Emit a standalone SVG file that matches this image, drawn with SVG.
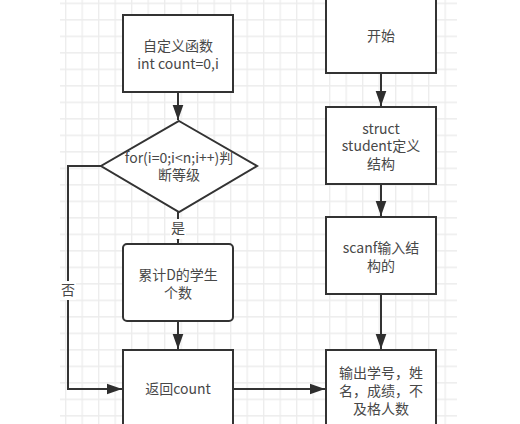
<svg xmlns="http://www.w3.org/2000/svg" width="520" height="424" viewBox="0 0 520 424">
<defs>
<pattern id="grid" x="65" y="2.6" width="16.5" height="16.5" patternUnits="userSpaceOnUse">
<path d="M0.7 0 V16.5 M0 0.7 H16.5" stroke="#ececec" stroke-width="1.3" fill="none"/>
</pattern>
<marker id="arr" markerUnits="userSpaceOnUse" markerWidth="16" markerHeight="12" viewBox="0 0 16 12" refX="15.5" refY="6" orient="auto">
<path d="M0 0.5 L15.5 6 L0 11.5 Z" fill="#2e2e2e"/>
</marker>
</defs>
<style>
.box{fill:#fff;stroke:#333;stroke-width:2}
.edge{fill:none;stroke:#333;stroke-width:2}
.t{font-family:"Noto Sans CJK SC","Noto Sans",sans-serif;font-size:14px;fill:#484848;text-anchor:middle}
</style>
<rect x="0" y="0" width="520" height="424" fill="#fff"/>
<rect x="60" y="0" width="397" height="424" fill="url(#grid)"/>
<g id="connectors">
<path class="edge" d="M178 92 V120" marker-end="url(#arr)"/>
<path class="edge" d="M178 212 V243" marker-end="url(#arr)"/>
<path class="edge" d="M178 321 V349" marker-end="url(#arr)"/>
<path class="edge" d="M101 166 H68 V389 H122" marker-end="url(#arr)"/>
<path class="edge" d="M234 389 H325" marker-end="url(#arr)"/>
<path class="edge" d="M381 73 V106" marker-end="url(#arr)"/>
<path class="edge" d="M381 184 V216" marker-end="url(#arr)"/>
<path class="edge" d="M381 294 V349" marker-end="url(#arr)"/>
<rect x="170" y="219" width="16" height="20" fill="#fff"/>
<text class="t" x="178" y="233">是</text>
<rect x="60" y="281" width="16" height="19" fill="#fff"/>
<text class="t" x="68" y="295">否</text>
</g>
<g id="n1">
<rect class="box" x="123" y="15" width="110" height="77"/>
<text class="t" x="178" y="51">自定义函数</text>
<text class="t" x="178" y="69">int count=0,i</text>
</g>
<g id="n2">
<path class="box" d="M179 121 L257 166 L179 212 L101 166 Z"/>
<text class="t" x="179" y="163">for(i=0;i&lt;n;i++)判</text>
<text class="t" x="179" y="180">断等级</text>
</g>
<g id="n3">
<rect class="box" x="123" y="244" width="110" height="77" rx="4"/>
<text class="t" x="178" y="280">累计D的学生</text>
<text class="t" x="178" y="298">个数</text>
</g>
<g id="n4">
<rect class="box" x="123" y="350" width="110" height="90"/>
<text class="t" x="178" y="394">返回count</text>
</g>
<g id="n5">
<rect class="box" x="326" y="-4" width="110" height="77"/>
<text class="t" x="381" y="41">开始</text>
</g>
<g id="n6">
<rect class="box" x="326" y="107" width="110" height="77"/>
<text class="t" x="381" y="134">struct</text>
<text class="t" x="381" y="151">student定义</text>
<text class="t" x="381" y="169">结构</text>
</g>
<g id="n7">
<rect class="box" x="326" y="217" width="110" height="77"/>
<text class="t" x="381" y="253">scanf输入结</text>
<text class="t" x="381" y="271">构的</text>
</g>
<g id="n8">
<rect class="box" x="326" y="350" width="110" height="90"/>
<text class="t" x="381" y="378">输出学号，姓</text>
<text class="t" x="381" y="396">名，成绩，不</text>
<text class="t" x="381" y="414">及格人数</text>
</g>
</svg>
